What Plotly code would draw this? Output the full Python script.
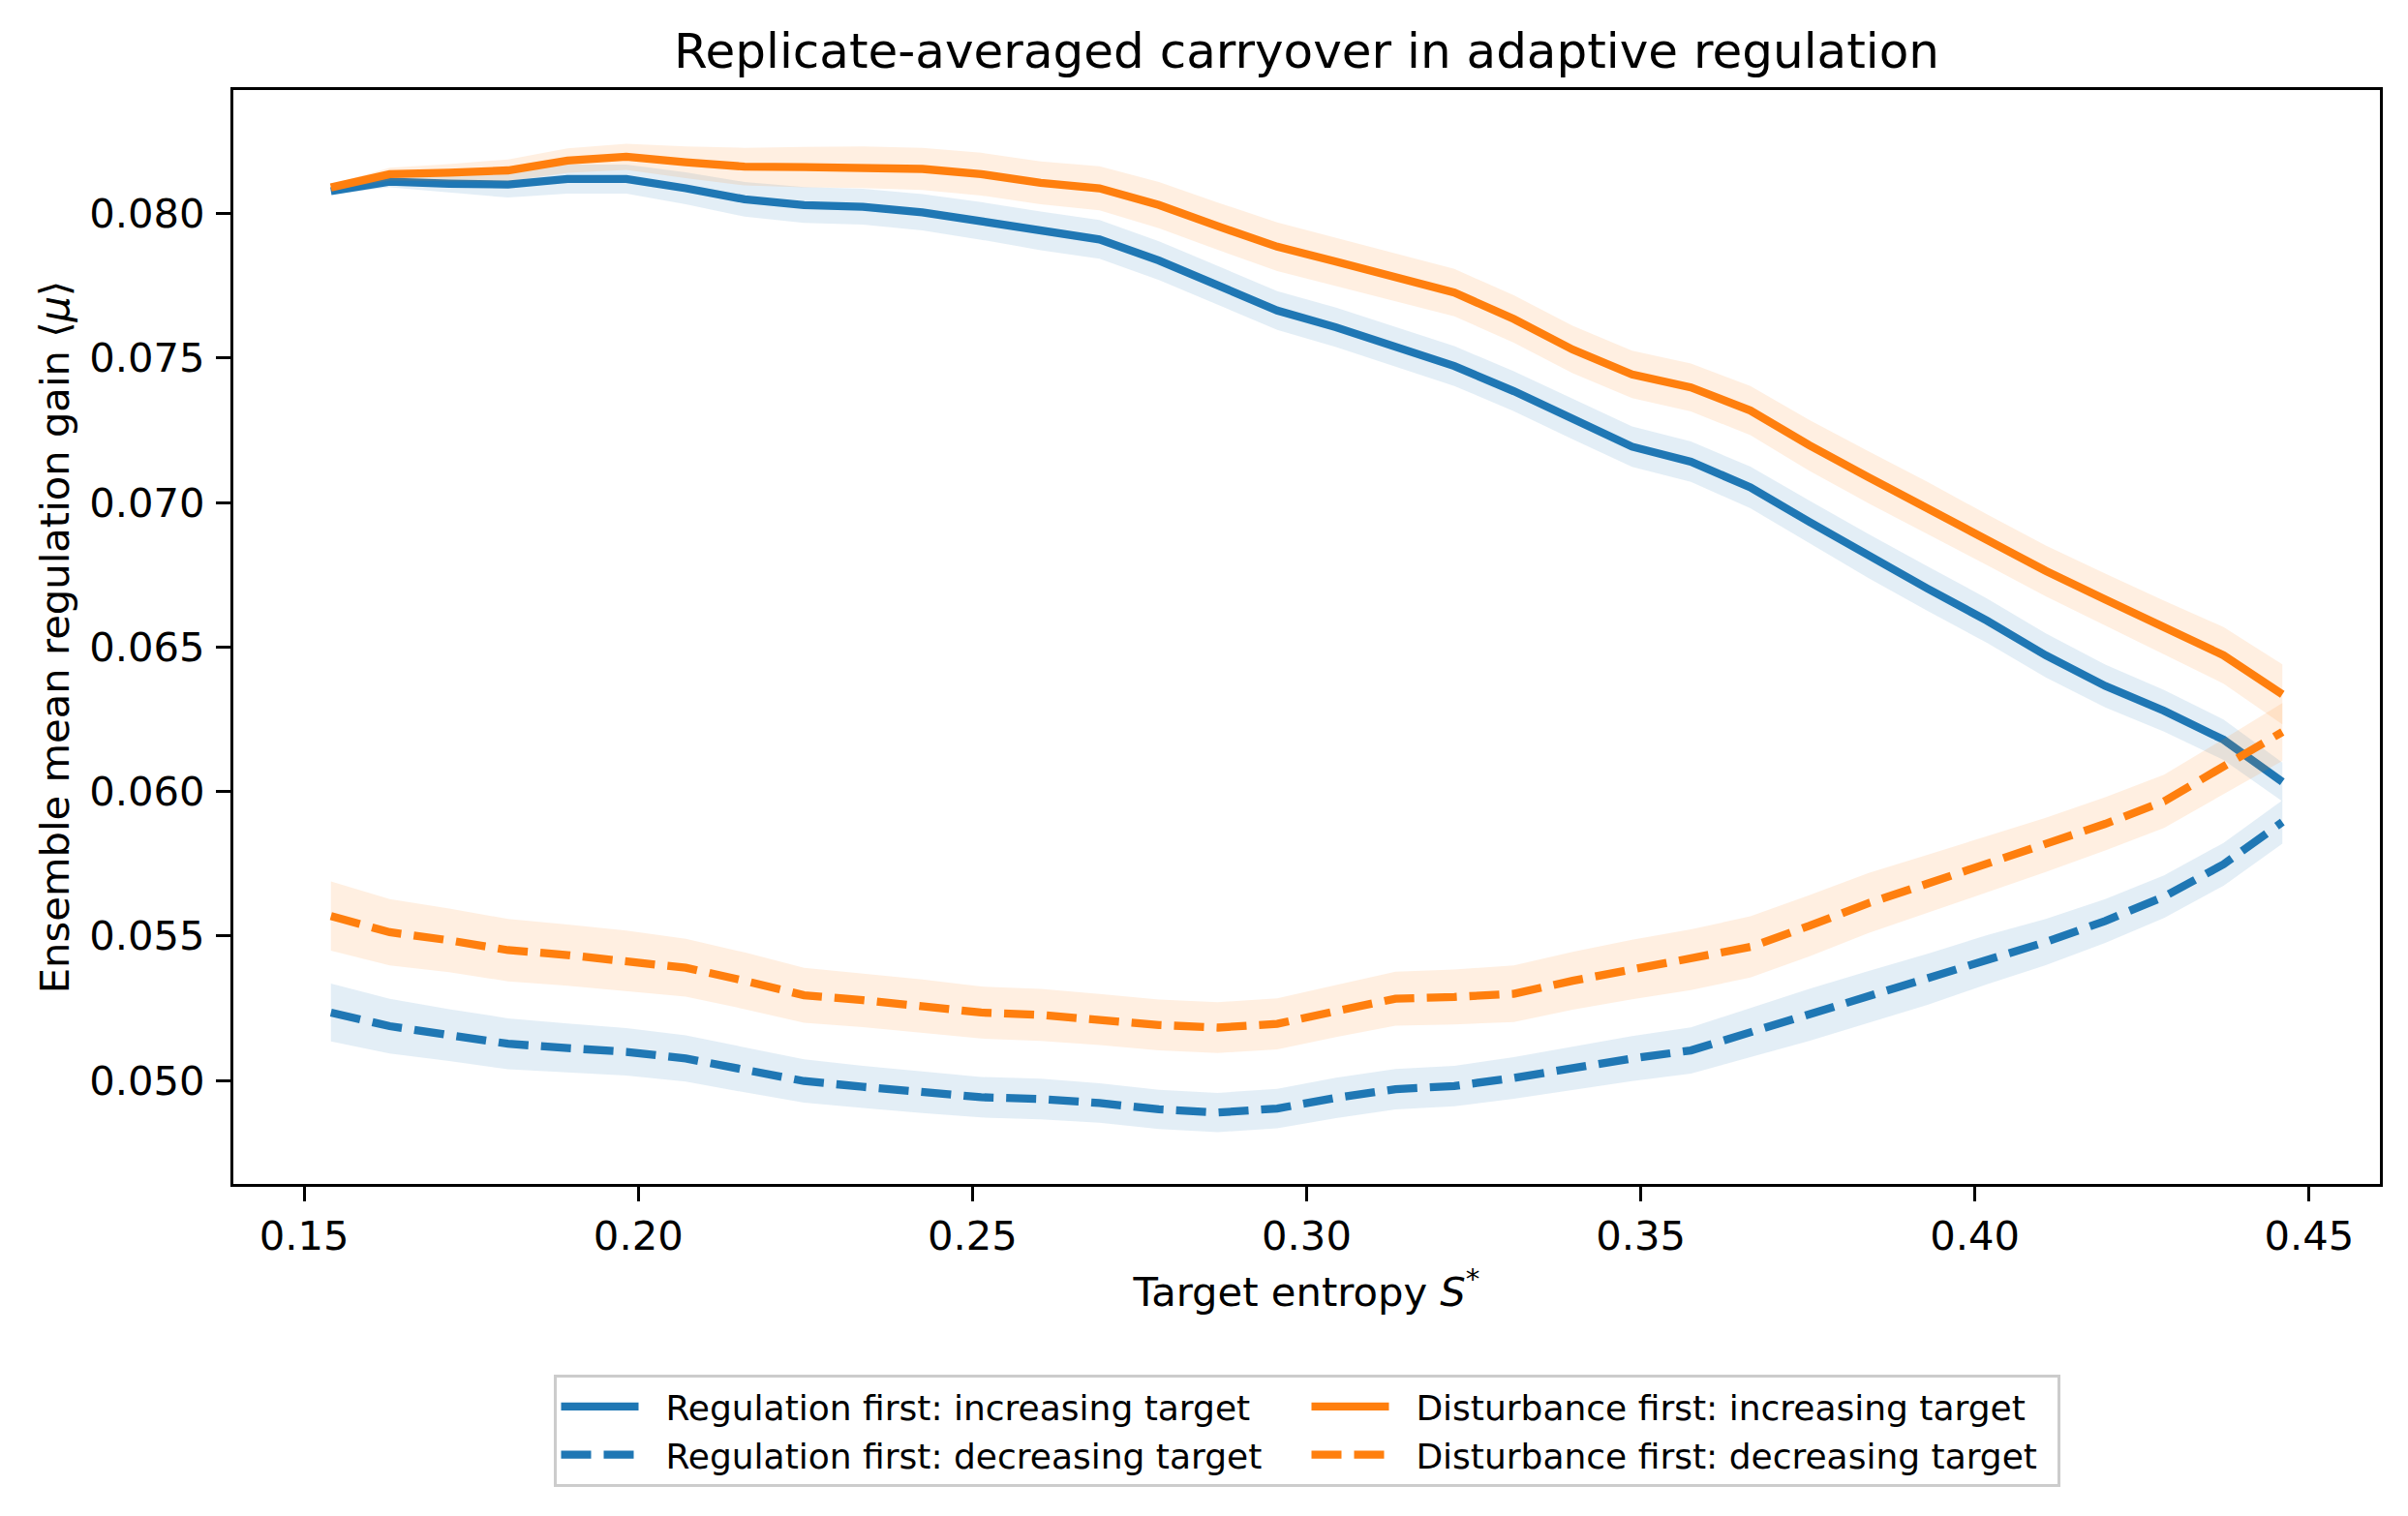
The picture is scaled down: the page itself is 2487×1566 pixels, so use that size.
import plotly.graph_objects as go

# Target entropy S* (34 grid points)
s_star = [0.1540, 0.1628, 0.1717, 0.1805, 0.1894, 0.1982, 0.2071, 0.2159, 0.2248, 0.2336,
          0.2425, 0.2513, 0.2602, 0.2690, 0.2779, 0.2867, 0.2956, 0.3044, 0.3133, 0.3221,
          0.3310, 0.3398, 0.3487, 0.3575, 0.3664, 0.3752, 0.3841, 0.3929, 0.4018, 0.4106,
          0.4195, 0.4283, 0.4372, 0.4460]

# Ensemble mean regulation gain <mu>
reg_inc = [0.08077, 0.08110, 0.08103, 0.08100, 0.08119, 0.08119, 0.08087, 0.08049, 0.08029, 0.08023,
           0.08004, 0.07974, 0.07940, 0.07910, 0.07837, 0.07750, 0.07664, 0.07606, 0.07539, 0.07472,
           0.07385, 0.07289, 0.07193, 0.07141, 0.07052, 0.06933, 0.06814, 0.06702, 0.06591, 0.06471,
           0.06365, 0.06279, 0.06179, 0.06033]
reg_dec = [0.05235, 0.05188, 0.05157, 0.05127, 0.05112, 0.05099, 0.05076, 0.05037, 0.04998, 0.04978,
           0.04959, 0.04942, 0.04936, 0.04922, 0.04900, 0.04889, 0.04903, 0.04940, 0.04970, 0.04981,
           0.05009, 0.05043, 0.05076, 0.05104, 0.05166, 0.05227, 0.05289, 0.05350, 0.05418, 0.05479,
           0.05552, 0.05636, 0.05748, 0.05894]
dist_inc = [0.08090, 0.08136, 0.08141, 0.08149, 0.08183, 0.08196, 0.08177, 0.08162, 0.08160, 0.08160,
            0.08154, 0.08136, 0.08106, 0.08087, 0.08029, 0.07956, 0.07885, 0.07833, 0.07779, 0.07726,
            0.07635, 0.07529, 0.07443, 0.07398, 0.07318, 0.07198, 0.07087, 0.06981, 0.06871, 0.06763,
            0.06664, 0.06567, 0.06471, 0.06336]
dist_dec = [0.05569, 0.05513, 0.05485, 0.05451, 0.05434, 0.05414, 0.05390, 0.05345, 0.05295, 0.05278,
            0.05258, 0.05235, 0.05227, 0.05211, 0.05192, 0.05183, 0.05196, 0.05240, 0.05283, 0.05289,
            0.05300, 0.05345, 0.05384, 0.05418, 0.05462, 0.05535, 0.05614, 0.05681, 0.05748, 0.05815,
            0.05888, 0.05966, 0.06086, 0.06206]

# Band half-widths (replicate spread)
reg_inc_err = [0.00012, 0.00020, 0.00030, 0.00045, 0.00050, 0.00050, 0.00055, 0.00060, 0.00062, 0.00062,
               0.00063, 0.00065, 0.00067, 0.00067, 0.00067, 0.00067, 0.00067, 0.00068, 0.00068, 0.00069,
               0.00069, 0.00070, 0.00070, 0.00070, 0.00072, 0.00074, 0.00076, 0.00077, 0.00077, 0.00076,
               0.00074, 0.00072, 0.00070, 0.00067]
reg_dec_err = [0.00100, 0.00095, 0.00090, 0.00088, 0.00085, 0.00082, 0.00080, 0.00078, 0.00075, 0.00073,
               0.00072, 0.00070, 0.00070, 0.00068, 0.00068, 0.00068, 0.00068, 0.00070, 0.00070, 0.00070,
               0.00072, 0.00075, 0.00078, 0.00080, 0.00085, 0.00090, 0.00090, 0.00088, 0.00085, 0.00080,
               0.00076, 0.00074, 0.00074, 0.00075]
dist_inc_err = [0.00010, 0.00022, 0.00030, 0.00038, 0.00042, 0.00045, 0.00055, 0.00065, 0.00070, 0.00072,
                0.00073, 0.00074, 0.00074, 0.00076, 0.00080, 0.00082, 0.00084, 0.00083, 0.00082, 0.00082,
                0.00082, 0.00082, 0.00082, 0.00083, 0.00085, 0.00088, 0.00090, 0.00090, 0.00088, 0.00088,
                0.00090, 0.00093, 0.00098, 0.00104]
dist_dec_err = [0.00120, 0.00115, 0.00110, 0.00108, 0.00106, 0.00105, 0.00100, 0.00098, 0.00095, 0.00093,
                0.00092, 0.00090, 0.00090, 0.00088, 0.00088, 0.00088, 0.00088, 0.00090, 0.00093, 0.00095,
                0.00098, 0.00100, 0.00103, 0.00105, 0.00106, 0.00106, 0.00104, 0.00100, 0.00097, 0.00094,
                0.00092, 0.00092, 0.00095, 0.00100]

BLUE = "#1f77b4"
ORANGE = "#ff7f0e"
BLUE_FILL = "rgba(31,119,180,0.125)"
ORANGE_FILL = "rgba(255,127,14,0.125)"
DASH = "31px,13px"
PAD = "\u00a0\u00a0"

series = [
    ("Regulation first: increasing target", reg_inc, reg_inc_err, BLUE, BLUE_FILL, "solid", 1),
    ("Regulation first: decreasing target", reg_dec, reg_dec_err, BLUE, BLUE_FILL, DASH, 3),
    ("Disturbance first: increasing target", dist_inc, dist_inc_err, ORANGE, ORANGE_FILL, "solid", 2),
    ("Disturbance first: decreasing target", dist_dec, dist_dec_err, ORANGE, ORANGE_FILL, DASH, 4),
]

fig = go.Figure()
for name, y, e, col, fcol, dash, rank in series:
    upper = [a + b for a, b in zip(y, e)]
    lower = [a - b for a, b in zip(y, e)]
    fig.add_trace(go.Scatter(
        x=s_star + s_star[::-1], y=upper + lower[::-1],
        fill="toself", fillcolor=fcol, mode="lines",
        line=dict(width=0, color=fcol), showlegend=False, hoverinfo="skip"))
    fig.add_trace(go.Scatter(
        x=s_star, y=y, mode="lines", name=PAD + name, legendrank=rank,
        line=dict(color=col, width=8.3, dash=dash)))

axis_common = dict(
    ticks="outside", ticklen=15, tickwidth=3.3, tickcolor="black",
    showline=True, linewidth=3.3, linecolor="black", mirror=True,
    showgrid=False, zeroline=False, tickfont=dict(size=41.7),
)

fig.update_layout(
    width=2487, height=1566,
    margin=dict(l=241, r=29, t=93, b=343),
    paper_bgcolor="white", plot_bgcolor="white",
    font=dict(family="DejaVu Sans", size=41.7, color="black"),
    title=dict(text="Replicate-averaged carryover in adaptive regulation",
               x=0.5, xref="paper", xanchor="center",
               y=1 - 52 / 1566, yref="container", yanchor="middle",
               font=dict(size=50)),
    xaxis=dict(range=[0.1394, 0.4606], tick0=0.15, dtick=0.05, tickformat=".2f",
               ticklabelstandoff=0,
               title=dict(text="Target entropy <i>S</i><sup>*</sup>", standoff=20,
                          font=dict(size=41.7)),
               **axis_common),
    yaxis=dict(range=[0.04642, 0.08427], tick0=0.05, dtick=0.005, tickformat=".3f",
               ticklabelstandoff=3,
               title=dict(text="Ensemble mean regulation gain ⟨<i>μ</i>⟩", standoff=8,
                          font=dict(size=41.7)),
               **axis_common),
    legend=dict(orientation="h", x=0.5, xanchor="center", y=-0.1743, yanchor="top",
                bordercolor="#cccccc", borderwidth=3, bgcolor="white",
                font=dict(size=36), entrywidth=680, itemwidth=80, tracegroupgap=0),
    showlegend=True,
)

fig.write_html("out.html")
